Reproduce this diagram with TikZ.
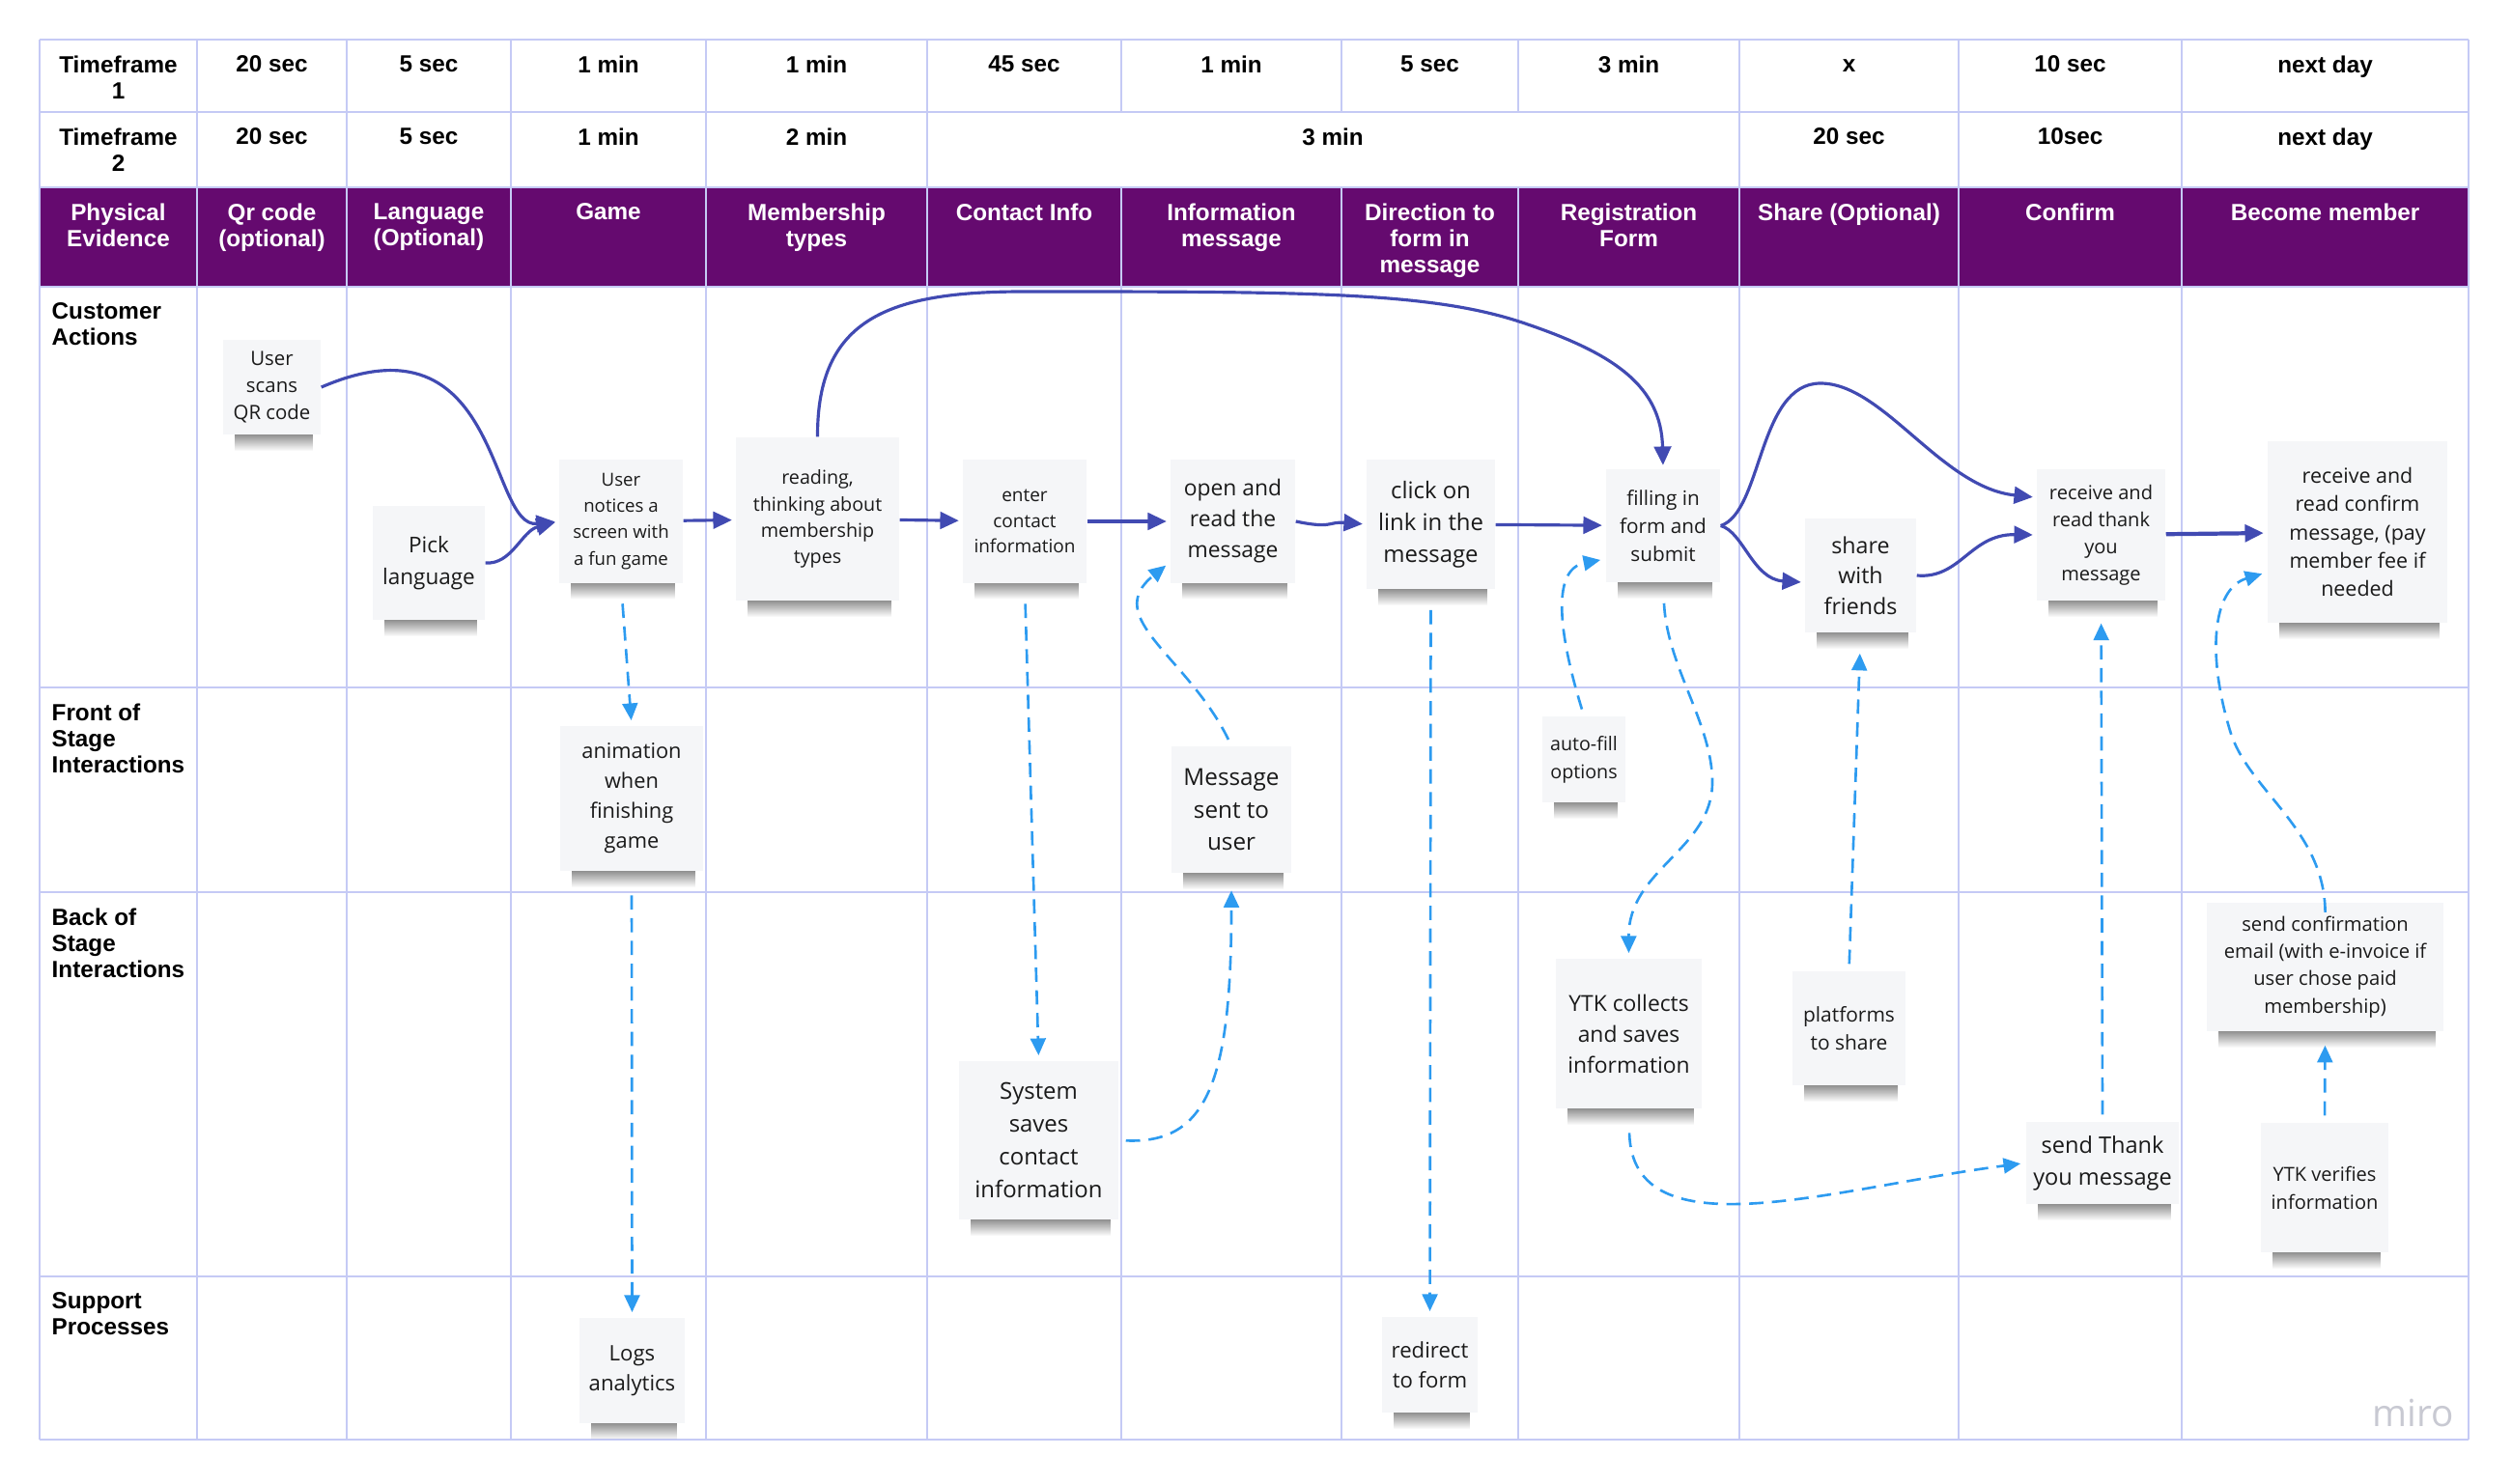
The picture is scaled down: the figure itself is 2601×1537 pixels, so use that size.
\documentclass[tikz,border=0pt]{standalone}
\usepackage{fontspec}
\setmainfont{Liberation Sans}
\newfontfamily\noteFont{Open Sans}
\usetikzlibrary{positioning,arrows.meta,fadings}

\definecolor{gridColor}{RGB}{197,202,245}
\definecolor{headerPurple}{RGB}{101,10,111}
\definecolor{flowBlue}{RGB}{65,74,178}
\definecolor{supportBlue}{RGB}{45,155,240}
\definecolor{noteFill}{RGB}{245,246,248}
\definecolor{noteText}{RGB}{26,26,26}
\definecolor{logoGray}{RGB}{200,201,210}

\tikzstyle{blueprint} = [x = 0.01cm, y = -0.01cm]
\tikzstyle{gridLine} = [color=gridColor, line width=0.6pt]
\tikzstyle{headText} = [font=\bfseries\fontsize{6.9}{7.7}\selectfont, align=center, anchor=north, inner sep=0pt]
\tikzstyle{purpleText} = [headText, text=white]
\tikzstyle{laneText} = [headText, align=left, anchor=north west]
\tikzstyle{noteStyle} = [fill=noteFill, text=noteText, align=center, inner sep=0pt]
\tikzstyle{noteShadow} = [fill=black!85, opacity=0.6, path fading=south]
\tikzstyle{flowArrow} = [color=flowBlue, line width=0.9pt, -{Triangle[length=5.5pt, width=5pt]}, shorten >=1pt]
\tikzstyle{supportArrow} = [color=supportBlue, line width=0.75pt, dash pattern=on 4.2pt off 2.5pt, -{Triangle[length=5pt, width=4.5pt]}, shorten <=2pt, shorten >=1.5pt]

\newcommand{\stickyNote}[8]{
  \fill [noteShadow] (#2 - #4/2 + 12, #3 + #5/2 - 3) rectangle (#2 + #4/2 - 8, #3 + #5/2 + 17);
  \node [noteStyle, minimum width = #4*0.01cm, minimum height = #5*0.01cm, font=\noteFont\fontsize{#6}{#7}\selectfont] (#1) at (#2, #3) {#8};
}

\begin{document}
\begin{tikzpicture}[blueprint]
  \useasboundingbox (0,0) rectangle (2601,1537);

  % table
  \fill [headerPurple] (41,194) rectangle (2556,297);
  \foreach \rowLine in {41,116,194,297,712,924,1322,1491} {
    \draw [gridLine] (41,\rowLine) -- (2556,\rowLine);
  }
  \foreach \colLine in {41,204,359,529,731,960,1801,2028,2259,2556} {
    \draw [gridLine] (\colLine,41) -- (\colLine,1491);
  }
  \foreach \colLine in {1161,1389,1572} {
    \draw [gridLine] (\colLine,41) -- (\colLine,116);
    \draw [gridLine] (\colLine,194) -- (\colLine,1491);
  }

  \foreach \colCenter/\cellText in {122.5/{Timeframe\\1}, 281.5/{20 sec}, 444/{5 sec}, 630/{1 min}, 845.5/{1 min}, 1060.5/{45 sec}, 1275/{1 min}, 1480.5/{5 sec}, 1686.5/{3 min}, 1914.5/{\vphantom{0}x}, 2143.5/{10 sec}, 2407.5/{next day}} {
    \node [headText] at (\colCenter,57) {\cellText};
  }
  \foreach \colCenter/\cellText in {122.5/{Timeframe\\2}, 281.5/{20 sec}, 444/{5 sec}, 630/{1 min}, 845.5/{2 min}, 1380/{3 min}, 1914.5/{20 sec}, 2143.5/{10sec}, 2407.5/{next day}} {
    \node [headText] at (\colCenter,132) {\cellText};
  }
  \foreach \colCenter/\cellText in {122.5/{Physical\\Evidence}, 281.5/{Qr code\\(optional)}, 444/{Language\\(Optional)}, 630/{Game}, 845.5/{Membership\\types}, 1060.5/{Contact Info}, 1275/{Information\\message}, 1480.5/{Direction to\\form in\\message}, 1686.5/{Registration\\Form}, 1914.5/{Share (Optional)}, 2143.5/{Confirm}, 2407.5/{Become member}} {
    \node [purpleText] at (\colCenter,210) {\cellText};
  }
  \foreach \rowTop/\cellText in {313/{Customer\\Actions}, 728/{Front of\\Stage\\Interactions}, 940/{Back of\\Stage\\Interactions}, 1338/{Support\\Processes}} {
    \node [laneText] at (53,\rowTop) {\cellText};
  }

  % sticky notes
  \stickyNote{qrScan}{281.5}{401}{101}{98}{5.8}{8}{User\\scans\\QR code}
  \stickyNote{pickLanguage}{444}{583}{116}{118}{6.4}{9.4}{Pick\\language}
  \stickyNote{funGame}{643}{540}{128}{127}{5.3}{7.7}{User\\notices a\\screen with\\a fun game}
  \stickyNote{readTypes}{846.5}{537.5}{169}{169}{5.6}{7.7}{reading,\\thinking about\\membership\\types}
  \stickyNote{enterContact}{1061}{540}{128}{127}{5.4}{7.5}{enter\\contact\\information}
  \stickyNote{readMessage}{1276.5}{540}{129}{127}{6.5}{9.1}{open and\\read the\\message}
  \stickyNote{clickLink}{1481.5}{543}{133}{134}{6.8}{9.4}{click on\\link in the\\message}
  \stickyNote{fillForm}{1722}{544.5}{118}{117}{5.9}{8.3}{filling in\\form and\\submit}
  \stickyNote{shareFriends}{1926.5}{596}{115}{118}{6.6}{9}{share\\with\\friends}
  \stickyNote{thankMessage}{2175.5}{554}{133}{136}{5.7}{8}{receive and\\read thank\\you\\message}
  \stickyNote{confirmMessage}{2441}{551}{186}{188}{6.1}{8.3}{receive and\\read confirm\\message, (pay\\member fee if\\needed}
  \stickyNote{gameAnimation}{654}{827}{148}{150}{6.2}{8.8}{animation\\when\\finishing\\game}
  \stickyNote{messageSent}{1275}{838.5}{124}{131}{6.9}{9.4}{Message\\sent to\\user}
  \stickyNote{autoFill}{1640}{786.5}{86}{89}{5.6}{8.2}{auto-fill\\options}
  \stickyNote{systemSaves}{1075.5}{1181}{165}{164}{6.8}{9.7}{System\\saves\\contact\\information}
  \stickyNote{ytkCollects}{1686.5}{1070.5}{151}{155}{6.5}{9.1}{YTK collects\\and saves\\information}
  \stickyNote{sharePlatforms}{1914.5}{1065}{117}{118}{5.95}{8.2}{platforms\\to share}
  \stickyNote{sendThank}{2177}{1204.5}{158}{85}{6.7}{9.4}{send Thank\\you message}
  \stickyNote{sendConfirmation}{2407.5}{1001.5}{245}{133}{5.75}{8}{send confirmation\\email (with e-invoice if\\user chose paid\\membership)}
  \stickyNote{ytkVerifies}{2407}{1230}{132}{134}{5.7}{8.2}{YTK verifies\\information}
  \stickyNote{logsAnalytics}{654.5}{1419.5}{109}{109}{6.3}{8.8}{Logs\\analytics}
  \stickyNote{redirectForm}{1480.5}{1413.5}{99}{99}{6.3}{8.8}{redirect\\to form}

  \node [font=\noteFont\fontsize{11}{13}\selectfont, text=logoGray] (miroLogo) at (2499,1463) {miro};

  % customer flow
  \draw [flowArrow] (qrScan.east) .. controls (520,320) and (505,548) .. (funGame.west);
  \draw [flowArrow] (pickLanguage.east) .. controls (530,585) and (540,550) .. (funGame.west);
  \draw [flowArrow] (funGame) -- (readTypes);
  \draw [flowArrow] (readTypes) -- (enterContact);
  \draw [flowArrow] (enterContact) -- (readMessage);
  \draw [flowArrow] (readMessage.east) .. controls (1380,548) and (1375,540) .. (clickLink.west);
  \draw [flowArrow] (clickLink) -- (fillForm);
  \draw [flowArrow] (readTypes.north) .. controls (846,330) and (920,302) .. (1060,302) .. controls (1350,302) and (1480,302) .. (1576,334) .. controls (1672,366) and (1720,400) .. (fillForm.north);
  \draw [flowArrow] (fillForm.east) .. controls (1825,530) and (1820,397) .. (1885,397) .. controls (1950,397) and (2010,505) .. (thankMessage.150);
  \draw [flowArrow] (fillForm.east) .. controls (1805,551) and (1815,600) .. (shareFriends.187);
  \draw [flowArrow] (shareFriends.east) .. controls (2030,600) and (2040,553) .. (thankMessage.west);
  \draw [flowArrow, line width=1.2pt] (thankMessage) -- (confirmMessage);

  % support flow
  \draw [supportArrow, shorten <=6pt] (funGame.south) -- (gameAnimation.north);
  \draw [supportArrow, shorten <=7pt] (gameAnimation.south) -- (logsAnalytics.north);
  \draw [supportArrow, shorten <=6pt] (enterContact.south) -- (systemSaves.north);
  \draw [supportArrow, shorten >=5pt] (systemSaves.east) .. controls (1250,1185) and (1275,1120) .. (messageSent.south);
  \draw [supportArrow] (messageSent.north) .. controls (1230,680) and (1140,640) .. (readMessage.213);
  \draw [supportArrow, shorten <=6pt] (clickLink.south) -- (redirectForm.north);
  \draw [supportArrow] (autoFill.north) .. controls (1615,660) and (1605,590) .. (fillForm.210);
  \draw [supportArrow, shorten <=6pt] (fillForm.south) .. controls (1726,690) and (1773,750) .. (1773,810) .. controls (1773,880) and (1686,900) .. (ytkCollects.north);
  \draw [supportArrow, shorten <=7pt] (ytkCollects.south) .. controls (1690,1300) and (1900,1230) .. (sendThank.west);
  \draw [supportArrow, shorten >=6pt] (sharePlatforms.north) -- (shareFriends.south);
  \draw [supportArrow, shorten >=6.5pt] (sendThank.north) -- (thankMessage.south);
  \draw [supportArrow, shorten >=4pt] (ytkVerifies.north) -- (sendConfirmation.south);
  \draw [supportArrow, shorten <=-3pt] (sendConfirmation.north) .. controls (2407,860) and (2330,820) .. (2310,760) .. controls (2285,680) and (2290,610) .. (confirmMessage.204);
\end{tikzpicture}
\end{document}
